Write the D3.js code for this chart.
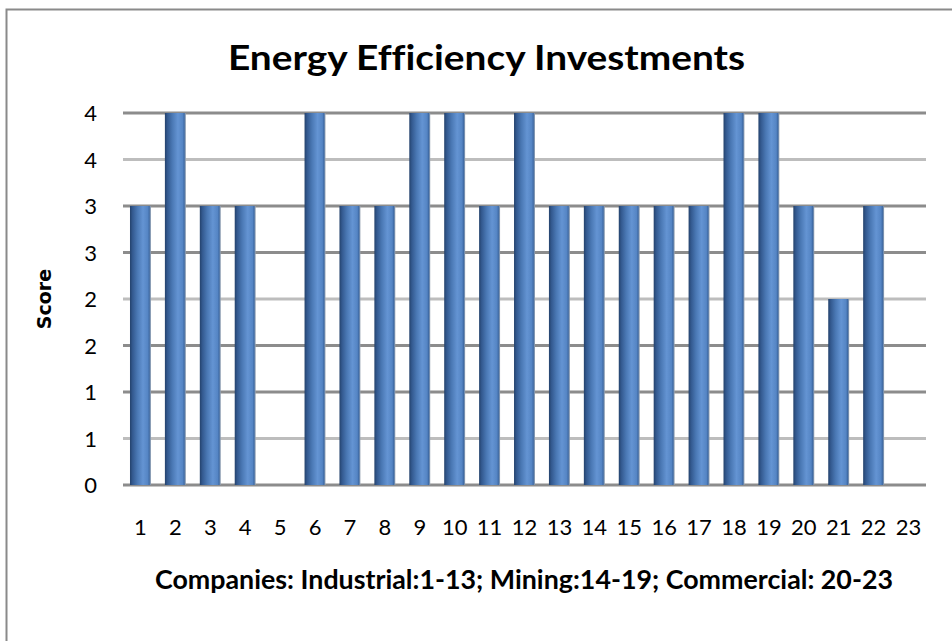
<!DOCTYPE html>
<html>
<head>
<meta charset="utf-8">
<script src="https://cdn.jsdelivr.net/npm/d3@7"></script>
<style>
  body { margin: 0; background: #fff; }
  svg { display: block; }
  text { font-variant-ligatures: none; }
</style>
</head>
<body>
<svg id="chart"></svg>
<script>
// data
const companies = d3.range(1, 24).map(String);
const scores = [3, 4, 3, 3, 0, 4, 3, 3, 4, 4, 3, 4, 3, 3, 3, 3, 3, 4, 4, 3, 2, 3, 0];
const yTicks = [0, 0.5, 1, 1.5, 2, 2.5, 3, 3.5, 4];

const titleText = "Energy Efficiency Investments";
const xTitleText = "Companies: Industrial:1-13; Mining:14-19; Commercial: 20-23";
const yTitleText = "Score";

const width = 952, height = 641;
const plotLeft = 123, plotRight = 926, plotTop = 113, plotBottom = 485;

const svg = d3.select("#chart").attr("width", width).attr("height", height);

// outer chart border (right / bottom run off the picture)
svg.append("rect")
  .attr("x", 6.5).attr("y", 9.5)
  .attr("width", 960).attr("height", 660)
  .attr("fill", "#fff")
  .attr("stroke", "#8a8a8a")
  .attr("stroke-width", 2);

const x = d3.scaleBand().domain(companies).range([plotLeft, plotRight]).paddingInner(0.4).paddingOuter(0.2);
const y = d3.scaleLinear().domain([0, 4]).range([plotBottom, plotTop]);

// bar shading
const defs = svg.append("defs");
const grad = defs.append("linearGradient").attr("id", "barGrad")
  .attr("x1", "0%").attr("x2", "100%").attr("y1", "0%").attr("y2", "0%");
[["0%", "#24426c"], ["12%", "#33598f"], ["35%", "#4a78b4"], ["62%", "#6494d3"], ["85%", "#5585c4"], ["92%", "#3f6ba6"], ["100%", "#9aa6b4"]]
  .forEach(s => grad.append("stop").attr("offset", s[0]).attr("stop-color", s[1]));

// gridlines
svg.append("g").selectAll("line")
  .data(yTicks)
  .join("line")
  .attr("x1", plotLeft).attr("x2", plotRight)
  .attr("y1", d => y(d)).attr("y2", d => y(d))
  .attr("stroke", (d, i) => ((yTicks.length - 1 - i) % 3 === 1 ? "#bdbdbd" : "#8c8c8c"))
  .attr("stroke-width", 3);

// y tick labels (Excel rounds to whole numbers)
svg.append("g").selectAll("text")
  .data(yTicks)
  .join("text")
  .attr("x", 97)
  .attr("y", d => y(d) + 8)
  .attr("text-anchor", "end")
  .attr("font-family", "Lato, 'Open Sans', sans-serif")
  .attr("font-size", 22)
  .attr("fill", "#000")
  .text(d => Math.round(d));

// bars
svg.append("g").selectAll("rect")
  .data(scores)
  .join("rect")
  .attr("x", (d, i) => x(companies[i]))
  .attr("y", d => y(d))
  .attr("width", x.bandwidth())
  .attr("height", d => y(0) - y(d))
  .attr("fill", "url(#barGrad)");

// x tick labels
svg.append("g").selectAll("text")
  .data(companies)
  .join("text")
  .attr("x", d => x(d) + x.bandwidth() / 2)
  .attr("y", 535)
  .attr("text-anchor", "middle")
  .attr("font-family", "Lato, 'Open Sans', sans-serif")
  .attr("font-size", 22)
  .attr("fill", "#000")
  .text(d => d);

// title
svg.append("text")
  .attr("x", 228).attr("y", 70)
  .attr("font-family", "Lato, sans-serif")
  .attr("font-weight", "bold")
  .attr("font-size", 35)
  .attr("textLength", 517)
  .attr("lengthAdjust", "spacingAndGlyphs")
  .text(titleText);

// x axis title
svg.append("text")
  .attr("x", 155).attr("y", 589)
  .attr("font-family", "Lato, sans-serif")
  .attr("font-weight", "bold")
  .attr("font-size", 26)
  .attr("textLength", 738)
  .attr("lengthAdjust", "spacingAndGlyphs")
  .text(xTitleText);

// y axis title
svg.append("text")
  .attr("transform", "translate(51," + ((plotTop + plotBottom) / 2) + ") rotate(-90)")
  .attr("text-anchor", "middle")
  .attr("font-family", "'DejaVu Sans', Verdana, sans-serif")
  .attr("font-weight", "bold")
  .attr("font-size", 19)
  .text(yTitleText);
</script>
</body>
</html>
